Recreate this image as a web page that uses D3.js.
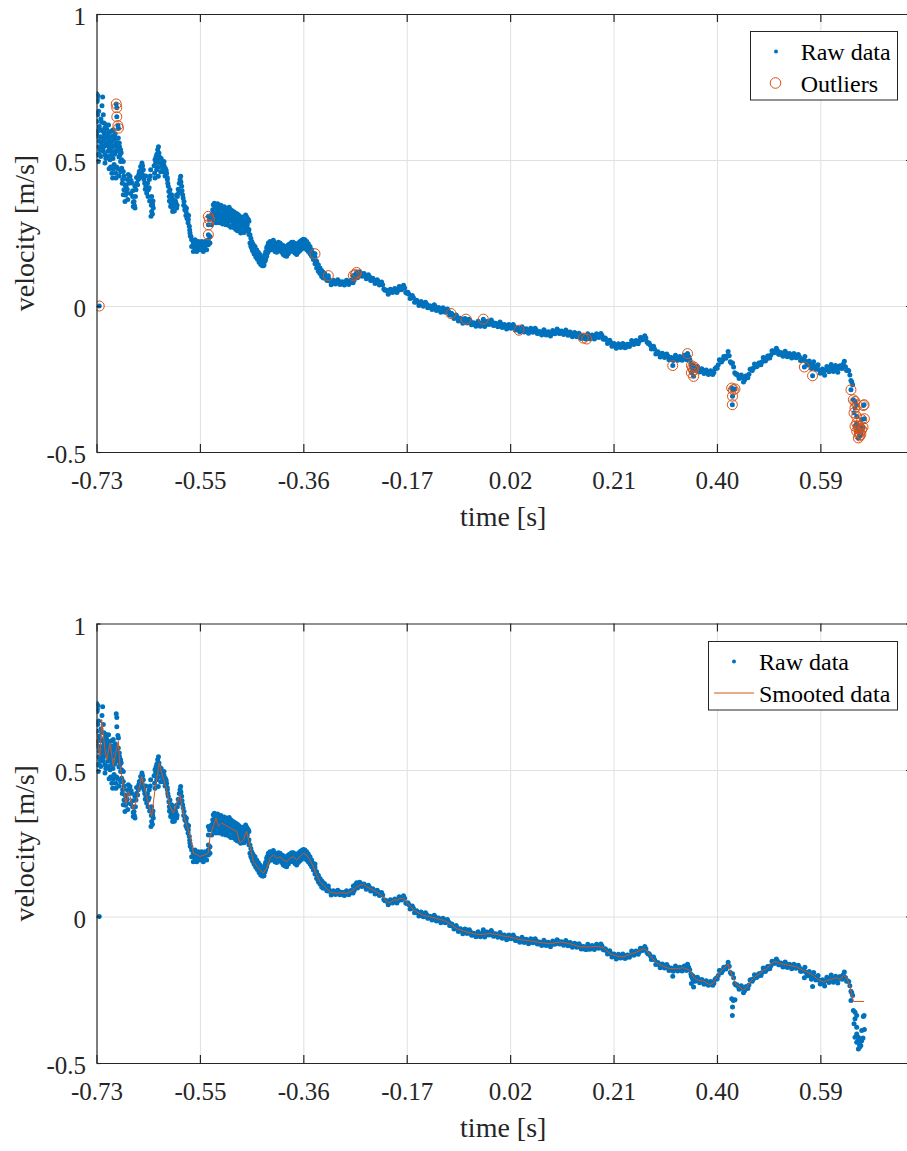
<!DOCTYPE html>
<html>
<head>
<meta charset="utf-8">
<script src="https://cdn.jsdelivr.net/npm/d3@7"></script>
<style>
  body { margin: 0; background: #fff; }
</style>
</head>
<body>
<svg id="chart" width="907" height="1151" style="font-family:'Liberation Serif','Times New Roman',serif"></svg>
<script>
// ---- axis ticks -------------------------------------------------------
const xTickValues = [-0.734, -0.5454, -0.3568, -0.1682, 0.0204, 0.209, 0.3976, 0.5862];
const xDomain = [-0.734, 0.7497];
const yTickValues = [-0.5, 0, 0.5, 1];
const yTickLabels = ["-0.5", "0", "0.5", "1"];

// ---- raw velocity samples [time s, velocity m/s] ----------------------
// start-up transient, widely scattered
const rawStart = [
  [-.7337,.727],[-.7313,.720],[-.7228,.716],[-.724,.686],[-.7325,.707],[-.734,.661],[-.7301,.667],[-.7216,.655],
  [-.7337,.632],[-.7246,.629],[-.7204,.627],[-.7155,.606],[-.7185,.592],[-.7277,.604],[-.7325,.581],[-.7289,.564],
  [-.7216,.575],[-.7125,.592],[-.7082,.598],[-.7033,.604],[-.7167,.552],[-.7125,.547],[-.7064,.564],[-.7094,.535],
  [-.7021,.547],[-.6985,.575],[-.6942,.575],[-.7325,.518],[-.7264,.512],[-.7185,.518],[-.7125,.512],[-.7064,.518],
  [-.6912,.518],[-.6881,.501],[-.6851,.495],[-.7003,.530],[-.7155,.575],[-.7246,.547],[-.7216,.530],[-.7289,.615],
  [-.7167,.621],[-.7107,.570],[-.7046,.581],[-.7277,.535],[-.6973,.547],[-.6924,.558],[-.6900,.535],[-.7307,.495],
  [-.734,.592],[-.7094,.501],[-.7185,.490],
  [-.733,.700],[-.732,.655],[-.731,.600],[-.730,.545],[-.729,.520],[-.727,.580],[-.726,.640],[-.725,.560],
  [-.723,.600],[-.722,.540],[-.721,.565],[-.720,.590],[-.719,.610],[-.718,.550],[-.717,.505],[-.716,.585],
  [-.714,.560],[-.713,.530],[-.712,.620],[-.711,.545],[-.710,.580],[-.708,.555],[-.707,.530],[-.706,.600],
  [-.705,.545],[-.704,.505],[-.702,.570],[-.701,.520],[-.700,.590],[-.699,.555],[-.697,.530],[-.696,.560],
  [-.695,.540],[-.693,.510],[-.692,.545],[-.690,.495],[-.689,.525],
  [-.7082,.476],[-.7033,.469],[-.6973,.476],[-.7046,.438],[-.6985,.438],[-.6881,.472],[-.6851,.461],[-.6863,.433],
  [-.6839,.398],[-.6802,.410],[-.6778,.433],[-.673,.444],[-.676,.450],[-.6699,.421],[-.6851,.381],[-.6821,.358],
  [-.679,.387],[-.6681,.375],[-.6669,.341],[-.6638,.336],[-.6656,.358],[-.662,.398],[-.6608,.421],[-.6577,.433],
  [-.6559,.461],[-.6535,.478],[-.6511,.490],[-.6486,.467],[-.6474,.433],[-.6438,.410],[-.6425,.387],[-.6395,.398],
  [-.6377,.433],[-.6352,.467],[-.6334,.375],[-.6316,.347],[-.6334,.324],[-.6346,.307],[-.6304,.336],
  [-.711,.470],[-.706,.455],[-.702,.485],[-.699,.455],[-.695,.470],[-.693,.445],[-.690,.460],[-.687,.420],
  [-.684,.445],[-.682,.415],[-.681,.380],[-.678,.400],[-.677,.365],[-.675,.420],[-.672,.385],[-.671,.430],
  [-.668,.395],[-.667,.355],[-.665,.345],[-.664,.410],[-.663,.375],[-.661,.440],[-.659,.415],[-.657,.450],
  [-.655,.440],[-.653,.465],[-.651,.455],[-.650,.480],[-.648,.445],[-.646,.420],[-.645,.400],[-.644,.445],
  [-.641,.420],[-.640,.375],[-.638,.405],[-.637,.360],[-.636,.445],[-.634,.345],[-.632,.315],[-.631,.360],
  [-.6273,.501],[-.6255,.510],[-.6225,.535],[-.6201,.524],[-.6182,.507],[-.6152,.490],[-.6134,.472],[-.6109,.495],
  [-.6085,.472],[-.6061,.455],[-.6243,.467],[-.6213,.444],[-.6273,.438],
  [-.629,.480],[-.628,.455],[-.626,.490],[-.624,.520],[-.623,.500],[-.622,.475],[-.621,.545],[-.619,.510],
  [-.618,.490],[-.617,.460],[-.616,.505],[-.614,.480],[-.612,.460],[-.611,.482],[-.609,.445],[-.607,.465],
  [-.605,.440],[-.604,.420],
  [-.6048,.433],[-.603,.410],[-.6,.398],[-.597,.381],[-.5939,.364],[-.5909,.341],[-.5951,.324],[-.5891,.353],
  [-.5866,.375],[-.5842,.387],[-.5817,.433],[-.5805,.444],[-.5787,.410],[-.5769,.381],[-.5744,.358],[-.5726,.341],
  [-.5708,.324],[-.5684,.313],[-.5665,.296],[-.5647,.273],[-.5635,.250],[-.5617,.238],[-.5878,.336],[-.5988,.341],
  [-.6012,.375],
  [-.602,.392],[-.601,.360],[-.599,.380],[-.598,.350],[-.596,.370],[-.595,.335],[-.593,.352],[-.592,.325],
  [-.590,.360],[-.588,.380],[-.587,.345],[-.585,.400],[-.583,.420],[-.582,.390],[-.580,.425],[-.578,.395],
  [-.576,.370],[-.575,.345],[-.573,.330],[-.571,.310],[-.570,.335],[-.569,.300],[-.567,.285],[-.566,.310],
  [-.564,.260],[-.563,.240]
];

// plateau, recovery and the dense middle section
const rawMiddle = [
  [-.5605,.227],[-.5605,.204],[-.5574,.216],[-.5574,.187],[-.5544,.227],[-.5544,.199],[-.5513,.210],[-.5513,.187],
  [-.5483,.221],[-.5483,.199],[-.5453,.210],[-.5453,.193],[-.5422,.221],[-.5422,.204],[-.5392,.216],[-.5392,.187],
  [-.5362,.204],[-.5362,.221],[-.5331,.193],[-.5331,.216],[-.5301,.210],[-.5301,.227],[-.527,.216],[-.527,.238],
  [-.5562,.204],[-.5465,.204],[-.538,.199],[-.5526,.221],
  [-.524,.313],[-.524,.278],[-.521,.347],[-.521,.318],[-.518,.341],[-.518,.313],[-.515,.336],[-.515,.307],[-.515,.324],
  [-.512,.343],[-.512,.316],[-.5088,.341],[-.5088,.313],[-.5088,.327],[-.5058,.339],[-.5058,.307],[-.5027,.336],
  [-.5027,.309],[-.5027,.324],[-.4997,.332],[-.4997,.305],[-.4966,.330],[-.4966,.307],[-.4966,.318],[-.4936,.327],
  [-.4936,.298],[-.4905,.324],[-.4905,.296],[-.4905,.313],[-.4875,.318],[-.4875,.290],[-.4845,.313],[-.4845,.284],
  [-.4845,.298],[-.4814,.305],[-.4814,.275],[-.4784,.296],[-.4784,.267],[-.4784,.284],[-.4753,.290],[-.4753,.261],
  [-.4723,.284],[-.4723,.256],[-.4723,.273],[-.4693,.282],[-.4693,.256],[-.4662,.278],[-.4662,.256],[-.4662,.267],
  [-.4632,.290],[-.4632,.264],[-.4601,.305],[-.4601,.273],[-.4601,.290],[-.4571,.296],[-.4571,.256],
  [-.522,.330],[-.522,.300],[-.519,.352],[-.519,.325],[-.519,.290],[-.516,.345],[-.516,.300],[-.516,.285],
  [-.513,.350],[-.513,.330],[-.513,.295],[-.510,.338],[-.510,.300],[-.510,.285],[-.507,.345],[-.507,.320],
  [-.507,.292],[-.504,.333],[-.504,.300],[-.504,.281],[-.501,.340],[-.501,.315],[-.501,.290],[-.498,.336],
  [-.498,.298],[-.498,.278],[-.495,.333],[-.495,.312],[-.495,.285],[-.492,.338],[-.492,.305],[-.492,.275],
  [-.489,.330],[-.489,.300],[-.489,.270],[-.486,.325],[-.486,.306],[-.486,.272],[-.483,.322],[-.483,.290],
  [-.483,.268],[-.480,.318],[-.480,.300],[-.480,.262],[-.477,.315],[-.477,.280],[-.477,.258],[-.474,.310],
  [-.474,.292],[-.474,.262],[-.471,.300],[-.471,.275],[-.471,.250],[-.468,.305],[-.468,.285],[-.468,.258],
  [-.465,.298],[-.465,.270],[-.465,.252],[-.462,.312],[-.462,.285],[-.462,.260],[-.459,.300],[-.459,.278],
  [-.459,.262],[-.456,.290],[-.456,.262],[-.456,.245],
  [-.4541,.244],[-.4541,.216],[-.451,.221],[-.451,.199],[-.448,.210],[-.448,.187],[-.445,.204],[-.445,.179],
  [-.4419,.193],[-.4419,.170],[-.4389,.184],[-.4389,.161],[-.4358,.176],[-.4358,.153],[-.4328,.168],[-.4328,.145],
  [-.4297,.159],[-.4297,.138],[-.4267,.176],[-.4267,.153],[-.4237,.199],[-.4237,.170],[-.4206,.216],[-.4206,.187],
  [-.4525,.232],[-.4525,.205],[-.4495,.215],[-.4495,.190],[-.4465,.203],[-.4465,.178],[-.4435,.190],[-.4435,.168],
  [-.4405,.182],[-.4405,.160],[-.4375,.172],[-.4375,.150],[-.4345,.165],[-.4345,.142],[-.4315,.155],[-.4315,.138],
  [-.4285,.162],[-.4285,.140],[-.4255,.185],[-.4255,.160],[-.4225,.205],[-.4225,.180],
  [-.4176,.221],[-.4176,.193],[-.4176,.206],[-.4145,.218],[-.4145,.193],[-.4115,.225],[-.4115,.199],[-.4085,.216],
  [-.4085,.187],[-.4054,.213],[-.4054,.184],[-.4024,.218],[-.4024,.190],[-.3993,.216],[-.3993,.190],[-.3993,.204],
  [-.3963,.210],[-.3963,.184],[-.3933,.207],[-.3933,.176],[-.3902,.204],[-.3902,.172],[-.3872,.202],[-.3872,.170],
  [-.3841,.210],[-.3841,.179],[-.3811,.213],[-.3811,.187],[-.3781,.218],[-.3781,.190],[-.375,.218],[-.375,.187],
  [-.372,.213],[-.372,.181],[-.3689,.210],[-.3689,.176],[-.3659,.216],[-.3659,.184],[-.3629,.221],[-.3629,.190],
  [-.3598,.225],[-.3598,.195],[-.3568,.229],[-.3568,.204],[-.3538,.227],[-.3538,.199],[-.3507,.221],[-.3507,.193],
  [-.3477,.213],[-.3477,.187],[-.3446,.204],[-.3446,.179],[-.3416,.193],[-.3416,.170],[-.3385,.181],[-.3385,.159],
  [-.3355,.168],[-.3355,.145],[-.3325,.153],[-.3325,.130],[-.3294,.141],[-.3294,.119],[-.3264,.130],[-.3264,.111],
  [-.3233,.122],[-.3233,.101],[-.3203,.115],[-.3203,.096],
  [-.4160,.205],[-.4130,.210],[-.4100,.208],[-.4070,.200],[-.4040,.202],[-.4010,.205],[-.3980,.200],[-.3950,.195],
  [-.3920,.190],[-.3890,.188],[-.3860,.192],[-.3830,.197],[-.3800,.203],[-.3770,.205],[-.3740,.200],[-.3710,.196],
  [-.3680,.193],[-.3650,.200],[-.3620,.205],[-.3590,.212],[-.3560,.217],[-.3530,.213],[-.3500,.207],[-.3470,.200],
  [-.3440,.191],[-.3410,.182],[-.3380,.170],[-.3350,.156],[-.3320,.142],[-.3290,.130],[-.3260,.120],[-.3230,.112]
];

// steady decline to the end of the run
const rawLate = [
  [-.318,.112],[-.314,.088],[-.310,.092],[-.306,.073],[-.302,.088],[-.298,.075],[-.294,.090],[-.290,.074],
  [-.286,.083],[-.282,.072],[-.278,.088],[-.274,.074],[-.270,.089],[-.266,.080],[-.262,.104],[-.258,.097],
  [-.254,.117],[-.250,.102],[-.246,.111],[-.242,.093],[-.238,.107],[-.234,.087],[-.230,.095],[-.226,.077],
  [-.222,.090],[-.218,.072],[-.214,.082],[-.210,.058],[-.206,.055],[-.202,.040],[-.198,.057],[-.194,.046],
  [-.190,.060],[-.186,.046],[-.182,.067],[-.178,.056],[-.174,.071],[-.170,.046],[-.166,.047],[-.162,.026],
  [-.158,.036],[-.154,.013],[-.150,.020],[-.146,.002],[-.142,.015],[-.138,-.001],[-.134,.013],[-.130,-.006],
  [-.126,.001],[-.122,-.012],[-.118,.004],[-.114,-.015],[-.110,-.005],[-.106,-.021],[-.102,-.006],[-.098,-.021],
  [-.094,-.010],[-.090,-.031],[-.086,-.026],[-.082,-.043],[-.078,-.031],[-.074,-.051],[-.070,-.042],[-.066,-.059],
  [-.062,-.043],[-.058,-.058],[-.054,-.045],[-.050,-.064],[-.046,-.057],[-.042,-.069],[-.038,-.052],[-.034,-.069],
  [-.030,-.057],[-.026,-.070],[-.022,-.053],[-.018,-.063],[-.014,-.048],[-.010,-.067],[-.006,-.059],[-.002,-.071],
  [.002,-.055],[.006,-.074],[.010,-.063],[.014,-.079],[.018,-.063],[.022,-.076],[.026,-.063],[.030,-.082],
  [.034,-.075],[.038,-.088],[.042,-.071],[.046,-.089],[.050,-.078],[.054,-.093],[.058,-.076],[.062,-.090],
  [.066,-.076],[.070,-.094],[.074,-.087],[.078,-.099],[.082,-.081],[.086,-.099],[.090,-.088],[.094,-.103],
  [.098,-.084],[.102,-.095],[.106,-.079],[.110,-.094],[.114,-.086],[.118,-.098],[.122,-.082],[.126,-.100],
  [.130,-.089],[.134,-.105],[.138,-.091],[.142,-.105],[.146,-.093],[.150,-.111],[.154,-.102],[.158,-.113],
  [.162,-.095],[.166,-.112],[.170,-.099],[.174,-.113],[.178,-.095],[.182,-.108],[.186,-.094],[.190,-.113],
  [.194,-.110],[.198,-.128],[.202,-.117],[.206,-.138],[.210,-.128],[.214,-.145],[.218,-.129],[.222,-.142],
  [.226,-.128],[.230,-.143],[.234,-.131],[.238,-.139],[.242,-.118],[.246,-.132],[.250,-.118],[.254,-.129],
  [.258,-.108],[.262,-.116],[.266,-.102],[.270,-.123],[.274,-.127],[.278,-.147],[.282,-.138],[.286,-.164],
  [.290,-.157],[.294,-.175],[.298,-.162],[.302,-.176],[.306,-.164],[.310,-.184],[.314,-.176],[.318,-.187],
  [.322,-.169],[.326,-.186],[.330,-.173],[.334,-.186],[.338,-.169],[.342,-.184],[.346,-.173],[.350,-.196],
  [.354,-.203],[.358,-.221],[.362,-.207],[.366,-.226],[.370,-.215],[.374,-.231],[.378,-.219],[.382,-.235],
  [.386,-.222],[.390,-.235],[.394,-.215],[.398,-.213],[.402,-.184],[.406,-.192],[.410,-.173],[.414,-.179],
  [.418,-.156],[.422,-.191],[.426,-.195],[.430,-.229],[.434,-.233],[.438,-.248],[.442,-.236],[.446,-.260],
  [.450,-.240],[.454,-.246],[.458,-.217],[.462,-.221],[.466,-.199],[.470,-.208],[.474,-.195],[.478,-.201],
  [.482,-.176],[.486,-.188],[.490,-.171],[.494,-.178],[.498,-.153],[.502,-.160],[.506,-.145],[.510,-.165],
  [.514,-.159],[.518,-.172],[.522,-.155],[.526,-.174],[.530,-.163],[.534,-.178],[.538,-.163],[.542,-.177],
  [.546,-.166],[.550,-.187],[.554,-.182],[.558,-.173],[.562,-.202],[.566,-.188],[.570,-.214],[.574,-.191],
  [.578,-.217],[.582,-.201],[.586,-.230],[.590,-.216],[.594,-.237],[.598,-.207],[.602,-.225],[.606,-.200],
  [.610,-.224],[.614,-.204],[.618,-.227],[.622,-.205],[.626,-.214],[.630,-.189],[.634,-.221],[.638,-.222],
  [.642,-.255],[.645,-.270],
  [-.316,.103],[-.312,.087],[-.308,.086],[-.304,.078],[-.300,.085],[-.296,.080],[-.292,.085],[-.288,.076],
  [-.284,.081],[-.280,.077],[-.276,.084],[-.272,.079],[-.268,.088],[-.264,.089],[-.260,.104],[-.256,.104],
  [-.252,.113],[-.248,.104],[-.244,.105],[-.240,.097],[-.236,.100],[-.232,.088],[-.228,.089],[-.224,.081],
  [-.220,.084],[-.216,.074],[-.212,.073],[-.208,.054],[-.204,.051],[-.200,.046],[-.196,.055],[-.192,.050],
  [-.188,.056],[-.184,.054],[-.180,.065],[-.176,.061],[-.172,.062],[-.168,.044],[-.164,.040],[-.160,.028],
  [-.156,.028],[-.152,.014],[-.148,.014],[-.144,.006],[-.140,.010],[-.136,.003],[-.132,.007],[-.128,-.005],
  [-.124,-.002],[-.120,-.007],[-.116,-.002],[-.112,-.013],[-.108,-.010],[-.104,-.016],[-.100,-.011],[-.096,-.018],
  [-.092,-.018],[-.088,-.031],[-.084,-.032],[-.080,-.040],[-.076,-.038],[-.072,-.049],[-.068,-.048],[-.064,-.054],
  [-.060,-.048],[-.056,-.054],[-.052,-.052],[-.048,-.063],[-.044,-.060],[-.040,-.063],[-.036,-.058],[-.032,-.066],
  [-.028,-.061],[-.024,-.064],[-.020,-.055],[-.016,-.058],[-.012,-.055],[-.008,-.066],[-.004,-.062],[.000,-.066],
  [.004,-.062],[.008,-.071],[.012,-.068],[.016,-.074],[.020,-.067],[.024,-.072],[.028,-.070],[.032,-.081],
  [.036,-.079],[.040,-.082],[.044,-.077],[.048,-.086],[.052,-.083],[.056,-.087],[.060,-.080],[.064,-.086],
  [.068,-.082],[.072,-.093],[.076,-.090],[.080,-.093],[.084,-.087],[.088,-.096],[.092,-.093],[.096,-.096],
  [.100,-.087],[.104,-.090],[.108,-.084],[.112,-.093],[.116,-.089],[.120,-.093],[.124,-.088],[.128,-.097],
  [.132,-.094],[.136,-.101],[.140,-.095],[.144,-.102],[.148,-.099],[.152,-.109],[.156,-.105],[.160,-.107],
  [.164,-.101],[.168,-.108],[.172,-.103],[.176,-.107],[.180,-.099],[.184,-.104],[.188,-.101],[.192,-.114],
  [.196,-.116],[.200,-.125],[.204,-.125],[.208,-.136],[.212,-.134],[.216,-.140],[.220,-.133],[.224,-.138],
  [.228,-.133],[.232,-.140],[.236,-.132],[.240,-.131],[.244,-.122],[.248,-.128],[.252,-.121],[.256,-.121],
  [.260,-.109],[.264,-.112],[.268,-.110],[.272,-.128],[.276,-.134],[.280,-.145],[.284,-.148],[.288,-.163],
  [.292,-.163],[.296,-.171],[.300,-.166],[.304,-.173],[.308,-.171],[.312,-.183],[.316,-.179],[.320,-.181],
  [.324,-.175],[.328,-.182],[.332,-.177],[.336,-.180],[.340,-.174],[.344,-.181],[.348,-.182],[.352,-.202],
  [.356,-.209],[.360,-.217],[.364,-.214],[.368,-.223],[.372,-.220],[.376,-.228],[.380,-.224],[.384,-.231],
  [.388,-.226],[.392,-.228],[.396,-.211],[.400,-.201],[.404,-.185],[.408,-.185],[.412,-.173],[.416,-.170],
  [.420,-.170],[.424,-.196],[.428,-.209],[.432,-.234],[.436,-.238],[.440,-.245],[.444,-.245],[.448,-.253],
  [.452,-.240],[.456,-.234],[.460,-.216],[.464,-.213],[.468,-.201],[.472,-.204],[.476,-.195],[.480,-.191],
  [.484,-.179],[.488,-.182],[.492,-.172],[.496,-.168],[.500,-.154],[.504,-.155],[.508,-.152],[.512,-.165],
  [.516,-.163],[.520,-.166],[.524,-.162],[.528,-.171],[.532,-.168],[.536,-.173],[.540,-.167],[.544,-.174],
  [.548,-.174],[.552,-.187],[.556,-.185],[.560,-.190],[.564,-.192],[.568,-.204],[.572,-.200],[.576,-.207],
  [.580,-.206],[.584,-.218],[.588,-.220],[.592,-.229],[.596,-.219],[.600,-.219],[.604,-.210],[.608,-.215],
  [.612,-.211],[.616,-.218],[.620,-.213],[.624,-.212],[.628,-.199],[.632,-.208],[.636,-.219],[.640,-.236],
  [.6435,-.260]
];

// ---- samples flagged as outliers [time s, velocity m/s] ---------------
const outlierData = [
  [-.729,.000],
  [-.698,.692],[-.697,.679],[-.697,.648],[-.695,.618],[-.694,.609],
  [-.530,.307],[-.528,.296],[-.530,.278],[-.530,.244],
  [-.3355,.179],[-.3112,.104],[-.2656,.104],[-.2595,.115],[-.262,.108],
  [-.0874,-.026],[-.0601,-.045],[-.0285,-.045],[.0366,-.083],[.1539,-.110],[.160,-.113],
  [.317,-.204],[.344,-.163],
  [.351,-.204],[.353,-.212],[.355,-.220],[.351,-.229],[.355,-.241],[.356,-.209],
  [.4245,-.281],[.4275,-.287],[.4305,-.284],[.426,-.309],[.4257,-.338],
  [.557,-.209],[.572,-.239],
  [.642,-.287],[.6464,-.321],[.6494,-.327],[.6525,-.338],[.6646,-.341],[.6494,-.349],[.6476,-.366],
  [.6525,-.378],[.6616,-.389],[.6525,-.401],[.6555,-.412],[.6586,-.418],[.6525,-.429],[.6573,-.435],
  [.6555,-.452],[.6616,-.424],[.6494,-.412],[.666,-.338],[.6665,-.386],[.664,-.415],[.660,-.440],
  [.658,-.445],[.656,-.420]
];

// ---- smoothed velocity [time s, velocity m/s] -------------------------
const smoothData = [
  [-.7337,.632],[-.730,.570],[-.7276,.547],[-.7246,.672],[-.7185,.570],[-.7154,.535],[-.7094,.592],[-.7033,.513],
  [-.7002,.547],[-.6942,.598],[-.6911,.513],[-.685,.444],[-.6802,.382],[-.6759,.427],[-.6729,.410],[-.6668,.365],
  [-.6607,.399],[-.6516,.478],[-.6486,.456],[-.6425,.410],[-.6334,.342],[-.6273,.433],[-.6194,.524],[-.6151,.490],
  [-.606,.433],[-.5999,.376],[-.5938,.353],[-.5817,.416],[-.5786,.376],[-.5726,.330],[-.5665,.296],[-.5604,.251],
  [-.5574,.217],[-.5452,.205],[-.5361,.211],[-.53,.217],[-.527,.273],[-.5209,.308],[-.516,.336],[-.5118,.308],
  [-.5057,.319],[-.4905,.302],[-.4783,.291],[-.4722,.251],[-.4662,.262],[-.4601,.291],[-.454,.239],[-.4479,.188],
  [-.4388,.165],[-.4297,.148],[-.4236,.165],[-.4175,.199],[-.4115,.210],[-.4054,.199],[-.3993,.204],[-.3933,.193],
  [-.3872,.187],[-.3811,.199],[-.375,.204],[-.3689,.193],[-.3629,.204],[-.3568,.216],[-.3507,.210],[-.3446,.193],
  [-.3385,.170],[-.3325,.141],[-.3264,.119],[-.3203,.107],[-.3142,.096],[-.3081,.084],[-.3021,.081],[-.296,.079],
  [-.2899,.081],[-.2838,.081],[-.2777,.079],[-.2717,.084],[-.2656,.090],[-.2595,.101],[-.2534,.107],[-.2473,.111],
  [-.2413,.101],[-.2352,.096],[-.2291,.090],[-.223,.084],[-.2169,.076],[-.2109,.067],[-.2048,.050],[-.1987,.047],
  [-.1926,.056],[-.1865,.056],[-.1805,.061],[-.1744,.061],[-.1683,.050],[-.1622,.035],[-.1561,.024],[-.1501,.016],
  [-.144,.010],[-.1379,.004],[-.1257,-.001],[-.1136,-.007],[-.1014,-.013],[-.0893,-.024],[-.0771,-.041],[-.0649,-.049],
  [-.0528,-.056],[-.0406,-.061],[-.0285,-.061],[-.0163,-.058],[-.0041,-.061],[.008,-.067],[.0202,-.070],[.0384,-.079],
  [.0566,-.083],[.0749,-.089],[.0931,-.093],[.1114,-.087],[.1296,-.093],[.1479,-.104],[.1661,-.104],[.1782,-.102],
  [.1904,-.106],[.2026,-.127],[.2147,-.135],[.2269,-.138],[.239,-.129],[.2512,-.121],[.2634,-.110],[.2694,-.115],
  [.2755,-.133],[.2877,-.159],[.2998,-.170],[.312,-.178],[.3242,-.178],[.3363,-.175],[.3485,-.184],[.3546,-.207],
  [.3606,-.216],[.3728,-.220],[.385,-.233],[.3911,-.227],[.3971,-.207],[.4032,-.190],[.4093,-.178],[.4154,-.167],
  [.4184,-.163],[.4215,-.184],[.4275,-.212],[.4336,-.235],[.4397,-.241],[.4458,-.252],[.4519,-.241],[.4579,-.224],
  [.464,-.212],[.4701,-.201],[.4762,-.195],[.4823,-.184],[.4883,-.178],[.4944,-.167],[.5005,-.155],[.5066,-.155],
  [.5127,-.161],[.5187,-.163],[.5309,-.167],[.5431,-.172],[.5552,-.184],[.5674,-.195],[.5735,-.201],[.5795,-.212],
  [.5856,-.218],[.5917,-.224],[.5978,-.218],[.6039,-.216],[.6099,-.212],[.616,-.209],[.6221,-.216],[.6282,-.201],
  [.6343,-.209],[.6403,-.241],[.6464,-.290],[.666,-.290]
];

// ---- styling ----------------------------------------------------------
const BLUE = "#0072BD", ORANGE = "#D95319", AXIS = "#262626", GRID = "#e0e0e0";
const FONT = "'Liberation Serif','Times New Roman',serif";
const PLOT_LEFT = 96.5, PLOT_RIGHT = 910;
const TICK_FONT = 25, LABEL_FONT = 28, LEGEND_FONT = 24;
const DOT_R = 2.5, RING_R = 5;

const rawAll = rawStart.concat(rawMiddle, rawLate, outlierData);   // every sample, flagged ones included

const svg = d3.select("#chart");
const x = d3.scaleLinear().domain(xDomain).range([PLOT_LEFT, PLOT_RIGHT]);
const fmtX = d => d.toFixed(2);

function drawPanel(opt) {
  const { top, bottom, id } = opt;
  const y = d3.scaleLinear().domain([-0.5, 1]).range([bottom, top]);
  const g = svg.append("g").attr("font-family", FONT);

  svg.append("clipPath").attr("id", id)
    .append("rect").attr("x", PLOT_LEFT).attr("y", top)
    .attr("width", PLOT_RIGHT - PLOT_LEFT).attr("height", bottom - top);

  // grid
  g.append("g").attr("transform", `translate(0,${bottom})`)
    .call(d3.axisBottom(x).tickValues(xTickValues.slice(1)).tickSize(-(bottom - top)).tickFormat(""))
    .call(s => { s.select(".domain").remove(); s.selectAll("line").attr("stroke", GRID); });
  g.append("g").attr("transform", `translate(${PLOT_LEFT},0)`)
    .call(d3.axisLeft(y).tickValues([0, 0.5]).tickSize(-(PLOT_RIGHT - PLOT_LEFT)).tickFormat(""))
    .call(s => { s.select(".domain").remove(); s.selectAll("line").attr("stroke", GRID); });

  const plot = g.append("g").attr("clip-path", `url(#${id})`);

  plot.append("g").selectAll("circle")
    .data(rawAll)
    .join("circle")
    .attr("cx", d => x(d[0])).attr("cy", d => y(d[1]))
    .attr("r", DOT_R).attr("fill", BLUE);

  opt.overlay(plot, y);

  // axes box with inward ticks
  const styleAxis = s => {
    s.attr("font-size", TICK_FONT).attr("font-family", FONT).style("font-family", FONT);
    s.select(".domain").attr("stroke", AXIS).attr("stroke-width", 1.2);
    s.selectAll(".tick line").attr("stroke", AXIS).attr("stroke-width", 1.2);
    s.selectAll(".tick text").attr("fill", AXIS).style("font-family", FONT);
  };
  g.append("g").attr("transform", `translate(0,${bottom})`)
    .call(d3.axisBottom(x).tickValues(xTickValues).tickSize(-8).tickSizeOuter(0).tickFormat(fmtX))
    .call(styleAxis)
    .call(s => s.selectAll(".tick text").attr("y", 37).attr("dy", null));
  g.append("g").attr("transform", `translate(0,${top})`)
    .call(d3.axisTop(x).tickValues(xTickValues).tickSize(-8).tickSizeOuter(0).tickFormat(""))
    .call(styleAxis);
  g.append("g").attr("transform", `translate(${PLOT_LEFT},0)`)
    .call(d3.axisLeft(y).tickValues(yTickValues).tickSize(-4).tickSizeOuter(0)
      .tickFormat((d, i) => yTickLabels[i]))
    .call(styleAxis)
    .call(s => s.selectAll(".tick text").attr("x", -10.5).attr("dy", "0.43em"));
  g.append("g").attr("transform", `translate(${PLOT_RIGHT},0)`)
    .call(d3.axisRight(y).tickValues(yTickValues).tickSize(-4).tickSizeOuter(0).tickFormat(""))
    .call(styleAxis);

  // axis titles
  g.append("text").attr("x", (PLOT_LEFT + PLOT_RIGHT) / 2).attr("y", bottom + 74)
    .attr("text-anchor", "middle").attr("font-size", LABEL_FONT)
    .attr("font-family", FONT).style("font-family", FONT).attr("fill", AXIS).text("time [s]");
  g.append("text")
    .attr("transform", `translate(34,${(top + bottom) / 2}) rotate(-90)`)
    .attr("text-anchor", "middle").attr("font-size", LABEL_FONT)
    .attr("font-family", FONT).style("font-family", FONT).attr("fill", AXIS).text("velocity [m/s]");

  // legend
  const L = opt.legend;
  const lg = g.append("g");
  lg.append("rect").attr("x", L.x).attr("y", L.y).attr("width", L.w).attr("height", L.h)
    .attr("fill", "#fff").attr("stroke", AXIS).attr("stroke-width", 1);
  L.items.forEach((it, i) => {
    const cy = L.y + 20 + i * 31.5;
    if (it.kind === "dot") {
      lg.append("circle").attr("cx", it.mx).attr("cy", cy).attr("r", 2).attr("fill", BLUE);
    } else if (it.kind === "ring") {
      lg.append("circle").attr("cx", it.mx).attr("cy", cy).attr("r", 5.3)
        .attr("fill", "none").attr("stroke", ORANGE).attr("stroke-width", 1);
    } else {
      lg.append("line").attr("x1", it.mx - 20).attr("x2", it.mx + 20).attr("y1", cy).attr("y2", cy)
        .attr("stroke", ORANGE).attr("stroke-width", 1);
    }
    lg.append("text").attr("x", L.textX).attr("y", cy + 8.5)
      .attr("font-size", LEGEND_FONT).style("font-family", FONT).attr("fill", "#000").text(it.label);
  });
}

// upper panel: raw samples with outliers ringed
drawPanel({
  top: 14, bottom: 452, id: "clipTop",
  overlay: (plot, y) => {
    plot.append("g").selectAll("circle")
      .data(outlierData)
      .join("circle")
      .attr("cx", d => x(d[0])).attr("cy", d => y(d[1]))
      .attr("r", RING_R).attr("fill", "none").attr("stroke", ORANGE).attr("stroke-width", 1);
  },
  legend: { x: 750.5, y: 31.5, w: 147, h: 68.5, textX: 800.7,
    items: [{ kind: "dot", mx: 776, label: "Raw data" }, { kind: "ring", mx: 775.5, label: "Outliers" }] }
});

// lower panel: raw samples with the smoothed trace
drawPanel({
  top: 623.5, bottom: 1063, id: "clipBottom",
  overlay: (plot, y) => {
    const line = d3.line().x(d => x(d[0])).y(d => y(d[1]));
    plot.append("path").datum(smoothData).attr("d", line)
      .attr("fill", "none").attr("stroke", ORANGE).attr("stroke-width", 1);
  },
  legend: { x: 708.5, y: 641.5, w: 189, h: 68.5, textX: 759,
    items: [{ kind: "dot", mx: 734, label: "Raw data" }, { kind: "line", mx: 734, label: "Smooted data" }] }
});
</script>
</body>
</html>
